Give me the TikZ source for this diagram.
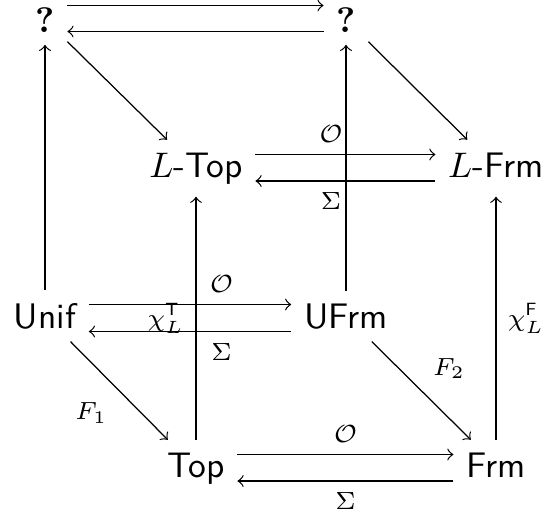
\documentclass[tikz,border=0pt]{standalone}
\usetikzlibrary{calc}
\begin{document}
\begin{tikzpicture}[x=0.2817pt,y=-0.2817pt,
  obj/.style={anchor=base, inner sep=3.4pt, font=\sffamily},
  lab/.style={inner sep=3.2pt, font=\scriptsize},
  arr/.style={->, line width=0.35pt}]
\useasboundingbox (0,0) rectangle (545,515);
% objects
\node[obj] (q1)   at (45,32)   {\rmfamily\bfseries ?};
\node[obj] (q2)   at (346,32)  {\rmfamily\bfseries ?};
\node[obj] (LTop) at (196,177) {$L$-Top};
\node[obj, text depth=1.94pt] (LFrm) at (496,177) {$L$-Frm};
\node[obj] (Unif) at (45,328)  {Unif};
\node[obj] (UFrm) at (346,328) {UFrm};
\node[obj] (Top)  at (196,477) {Top};
\node[obj] (Frm)  at (496,477) {Frm};
% top row pair
\draw[arr] ($(q1.base east)+(0,-26.5)$) -- ($(q2.base west)+(0,-26.5)$);
\draw[arr] ($(q2.base west)+(0,-0.5)$) -- ($(q1.base east)+(0,-0.5)$);
% L row pair
\draw[arr] ($(LTop.base east)+(0,-22.5)$) -- node[lab, above, pos=0.42] {$\mathcal{O}$} ($(LFrm.base west)+(0,-22.5)$);
\draw[arr] ($(LFrm.base west)+(0,4)$) -- node[lab, below, pos=0.58] {$\Sigma$} ($(LTop.base east)+(0,4)$);
% uniform row pair
\draw[arr] ($(Unif.base east)+(0,-23.5)$) -- node[lab, above, pos=0.655] {$\mathcal{O}$} ($(UFrm.base west)+(0,-23.5)$);
\draw[arr] ($(UFrm.base west)+(0,3.5)$) -- node[lab, below, pos=0.345] {$\Sigma$} ($(Unif.base east)+(0,3.5)$);
% bottom row pair
\draw[arr] ($(Top.base east)+(0,-22.5)$) -- node[lab, above] {$\mathcal{O}$} ($(Frm.base west)+(0,-22.5)$);
\draw[arr] ($(Frm.base west)+(0,4)$) -- node[lab, below] {$\Sigma$} ($(Top.base east)+(0,4)$);
% verticals
\draw[arr] (Unif) -- (q1);
\draw[arr] (UFrm) -- (q2);
\draw[arr] (Top) -- node[lab, left] {$\chi_L^{\mathsf{T}}$} (LTop);
\draw[arr] (Frm) -- node[lab, right] {$\chi_L^{\mathsf{F}}$} (LFrm);
% diagonals
\draw[arr] (q1) -- (LTop);
\draw[arr] (q2) -- (LFrm);
\draw[arr] (Unif) -- node[lab, below left] {$F_1$} (Top);
\draw[arr] (UFrm) -- node[lab, above right] {$F_2$} (Frm);
\end{tikzpicture}
\end{document}
